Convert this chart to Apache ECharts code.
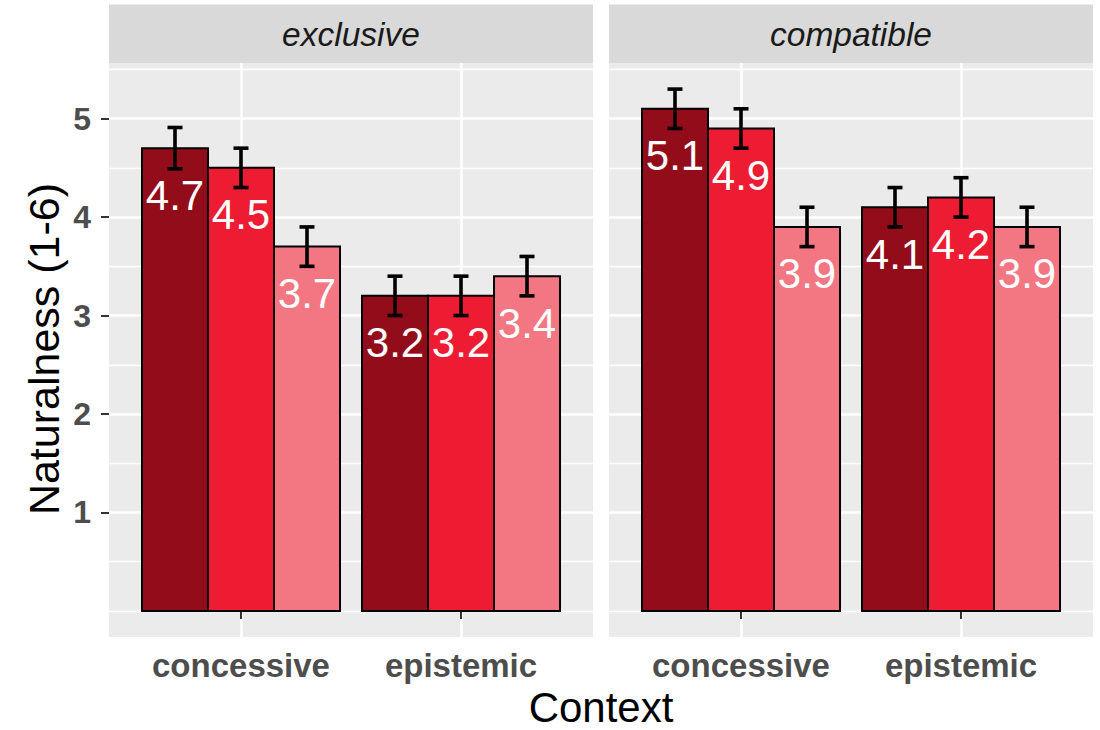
<!DOCTYPE html>
<html>
<head>
<meta charset="utf-8">
<script src="https://cdn.jsdelivr.net/npm/echarts@6/dist/echarts.min.js"></script>
<style>
  html, body { margin: 0; padding: 0; background: #ffffff; }
  #chart { width: 1100px; height: 730px; }
</style>
</head>
<body>
<div id="chart"></div>
<script>
// ---- data ----
const facets = ['exclusive', 'compatible'];
const contexts = ['concessive', 'epistemic'];
const yTicks = [1, 2, 3, 4, 5];
const yMinorLines = [0, 0.5, 1.5, 2.5, 3.5, 4.5, 5.5];

// means per facet, per level (dark, mid, light), indexed by context
const exclusiveDark  = [4.7, 3.2];
const exclusiveMid   = [4.5, 3.2];
const exclusiveLight = [3.7, 3.4];
const compatibleDark  = [5.1, 4.1];
const compatibleMid   = [4.9, 4.2];
const compatibleLight = [3.9, 3.9];

// standard errors (error bar half-lengths)
const seExclusiveDark  = [0.21, 0.2];
const seExclusiveMid   = [0.2, 0.2];
const seExclusiveLight = [0.2, 0.2];
const seCompatibleDark  = [0.2, 0.2];
const seCompatibleMid   = [0.2, 0.2];
const seCompatibleLight = [0.2, 0.2];

const levelColors = ['#930c19', '#ed1c32', '#f37783'];

// ---- layout ----
const panels = [
  { left: 109, right: 507 },
  { left: 609, right: 7 }
];
const gridTop = 63, gridBottom = 93;
const dodge = 0.3;      // bar width in x units (0.9 / 3)
const capPx = 15;
const FONT = 'Liberation Sans, Arial, sans-serif';

const facetData = [
  { means: [exclusiveDark, exclusiveMid, exclusiveLight], se: [seExclusiveDark, seExclusiveMid, seExclusiveLight] },
  { means: [compatibleDark, compatibleMid, compatibleLight], se: [seCompatibleDark, seCompatibleMid, seCompatibleLight] }
];

function renderBar(params, api) {
  const x = api.value(0), v = api.value(1), se = api.value(2);
  const pBL = api.coord([x - dodge / 2, 0]);
  const pTR = api.coord([x + dodge / 2, v]);
  const pLo = api.coord([x, v - se]);
  const pHi = api.coord([x, v + se]);
  const cx = (pBL[0] + pTR[0]) / 2;
  const color = api.visual('color');
  const ebStyle = { stroke: '#000', lineWidth: 3.6 };
  return {
    type: 'group',
    children: [
      { type: 'rect', shape: { x: pBL[0], y: pTR[1], width: pTR[0] - pBL[0], height: pBL[1] - pTR[1] },
        style: { fill: color, stroke: '#000000', lineWidth: 2 } },
      { type: 'line', shape: { x1: cx, y1: pLo[1], x2: cx, y2: pHi[1] }, style: ebStyle },
      { type: 'line', shape: { x1: cx - capPx / 2, y1: pLo[1], x2: cx + capPx / 2, y2: pLo[1] }, style: ebStyle },
      { type: 'line', shape: { x1: cx - capPx / 2, y1: pHi[1], x2: cx + capPx / 2, y2: pHi[1] }, style: ebStyle },
      { type: 'text', style: { text: v.toFixed(1), x: cx, y: pTR[1] + 47, fill: '#ffffff',
          fontSize: 42, fontFamily: FONT, align: 'center', verticalAlign: 'middle' } }
    ]
  };
}

const grids = [], xAxes = [], yAxes = [], series = [], graphics = [];
facets.forEach((f, gi) => {
  grids.push({ left: panels[gi].left, right: panels[gi].right, top: gridTop, bottom: gridBottom,
    show: true, backgroundColor: '#ebebeb', borderWidth: 0, containLabel: false });
  xAxes.push({
    type: 'value', gridIndex: gi, min: 0.4, max: 2.6,
    axisLine: { show: false },
    axisTick: { show: true, customValues: [1, 2], length: 8, lineStyle: { color: '#333333', width: 2 } },
    axisLabel: { show: true, customValues: [1, 2], formatter: v => contexts[Math.round(v) - 1] || '',
      fontSize: 33, fontWeight: 'bold', color: '#4d4d4d', fontFamily: FONT, margin: 12 },
    splitLine: { show: true, lineStyle: { color: '#ffffff', width: 2.6 } }
  });
  yAxes.push({
    type: 'value', gridIndex: gi, min: -0.265, max: 5.565,
    axisLine: { show: false },
    axisTick: { show: gi === 0, customValues: yTicks, length: 8, lineStyle: { color: '#333333', width: 2 } },
    axisLabel: { show: gi === 0, customValues: yTicks, fontSize: 32, fontWeight: 'bold', color: '#4d4d4d',
      fontFamily: FONT, margin: 18 },
    splitLine: { show: true, lineStyle: { color: '#ffffff', width: 2.6 } }
  });
  yAxes.push({
    type: 'value', gridIndex: gi, min: -0.265, max: 5.565, position: 'left',
    axisLine: { show: false },
    axisTick: { show: false, customValues: yMinorLines },
    axisLabel: { show: false, customValues: yMinorLines },
    splitLine: { show: true, lineStyle: { color: '#ffffff', width: 1.3 } }
  });
  facetData[gi].means.forEach((arr, li) => {
    series.push({
      type: 'custom', xAxisIndex: gi, yAxisIndex: gi * 2, renderItem: renderBar,
      itemStyle: { color: levelColors[li] },
      data: arr.map((m, ci) => [ci + 1 + (li - 1) * dodge, m, facetData[gi].se[li][ci]]),
      z: 3, silent: true
    });
  });
  graphics.push({ type: 'rect', left: panels[gi].left, top: 4.5,
    shape: { width: 484, height: 58.5 }, style: { fill: '#d9d9d9' } });
  graphics.push({ type: 'text', x: panels[gi].left + 242, y: 34,
    style: { text: f, fill: '#1a1a1a', fontSize: 33.5, fontStyle: 'italic',
      fontFamily: FONT, align: 'center', verticalAlign: 'middle' } });
});
graphics.push({ type: 'text', x: 601, y: 707,
  style: { text: 'Context', fill: '#000000', fontSize: 42, fontFamily: FONT,
    align: 'center', verticalAlign: 'middle' } });
graphics.push({ type: 'text', x: 44, y: 349, rotation: Math.PI / 2,
  style: { text: 'Naturalness (1-6)', fill: '#000000', fontSize: 43, fontFamily: FONT,
    align: 'center', verticalAlign: 'middle' } });

const chart = echarts.init(document.getElementById('chart'), null, { renderer: 'svg' });
chart.setOption({
  animation: false,
  backgroundColor: '#ffffff',
  grid: grids, xAxis: xAxes, yAxis: yAxes, series: series, graphic: graphics
});
</script>
</body>
</html>
